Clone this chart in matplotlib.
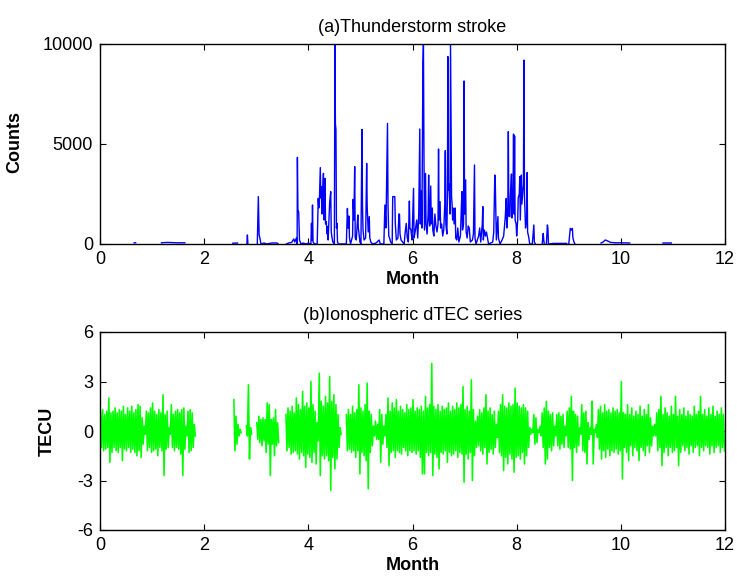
import numpy as np
import matplotlib
matplotlib.use("Agg")
import matplotlib.pyplot as plt

nan = np.nan

# ---------------- (a) thunderstorm stroke counts ----------------
stroke_month = [
    0.655, 0.685, nan,
    1.18, 1.30, 1.45, 1.63, nan,
    2.55, 2.64, nan,
    2.82, 2.83, 2.84, nan,
    3.02, 3.04, 3.055, 3.07, 3.09, 3.15, 3.20, 3.30, 3.40, 3.42, nan,
    3.58, 3.62, 3.68, 3.72, 3.74, 3.77, 3.785, 3.79, 3.80, 3.815, 3.83, 3.86, 3.90, 3.95, 4.00,
    4.05, 4.06, 4.07, 4.08, 4.09, 4.12, 4.17, 4.19, 4.20, 4.21, 4.23, 4.24, 4.25, 4.26, 4.275,
    4.29, 4.30, 4.31, 4.32, 4.33, 4.345, 4.36, 4.37, 4.38, 4.40, 4.41, 4.43, 4.44, 4.45, 4.47,
    4.50, 4.51, 4.52, 4.53, 4.54, 4.55, 4.56, 4.58,
    4.73, 4.75, 4.76, 4.77, 4.78, 4.79, 4.81, 4.85, 4.86, 4.875, 4.89, 4.90, 4.92, 4.95, 4.96,
    4.97, 4.99, 5.01, 5.03, 5.04, 5.05, 5.07, 5.10, 5.12, 5.13, 5.15, 5.17, 5.18, 5.20, 5.23,
    5.30, 5.36, 5.38, 5.45, 5.47, 5.49, 5.52, 5.53, 5.545, 5.56, 5.58, 5.61, 5.62, 5.66, 5.67,
    5.69, 5.72, 5.74, 5.75, 5.76, 5.78, 5.81, 5.84, 5.86, 5.88, 5.90, 5.92, 5.94, 5.95, 5.97,
    5.99, 6.02, 6.03, 6.05, 6.08, 6.10, 6.12, 6.14, 6.15, 6.17, 6.18, 6.20, 6.21, 6.22, 6.23,
    6.25, 6.26, 6.28, 6.30, 6.31, 6.32, 6.33, 6.35, 6.36, 6.38, 6.39, 6.41, 6.43, 6.45, 6.47,
    6.49, 6.50, 6.51, 6.53, 6.54, 6.56, 6.58, 6.60, 6.62, 6.63, 6.64, 6.66, 6.67, 6.68, 6.69,
    6.70, 6.72, 6.73, 6.74, 6.75, 6.76, 6.77, 6.78, 6.80, 6.82, 6.83, 6.85, 6.87, 6.89, 6.92,
    6.94, 6.95, 6.96, 6.98, 6.99, 7.00, 7.01, 7.02, 7.03, 7.05, 7.07, 7.09, 7.11, 7.15, 7.17,
    7.19, 7.20, 7.22, 7.27, 7.29, 7.31, 7.34, 7.35, 7.36, 7.38, 7.40, 7.42, 7.44, 7.46, 7.54,
    7.56, 7.58, 7.59, 7.60, 7.61, 7.64, 7.65, 7.68, 7.72, 7.75, 7.78, 7.80, 7.81, 7.83, 7.84,
    7.85, 7.87, 7.88, 7.90, 7.91, 7.93, 7.94, 7.95, 7.96, 7.97, 7.99, 8.00, 8.02, 8.03, 8.05,
    8.06, 8.07, 8.09, 8.10, 8.13, 8.14, 8.15, 8.17, 8.19, 8.20, 8.21, 8.23, 8.25,
    8.30, 8.33, 8.34, 8.36, nan,
    8.49, 8.51, 8.52, 8.53, nan,
    8.57, 8.59, 8.60, 8.61, 8.70, 8.80, 8.96, nan,
    9.00, 9.02, 9.03, 9.05, 9.07, 9.08, 9.10, 9.12, nan,
    9.62, 9.66, 9.70, 9.75, 9.80, 9.90, 10.00, 10.17, nan,
    10.81, 10.97,
]
stroke_counts = [
    60, 60, nan,
    60, 80, 60, 60, nan,
    40, 50, nan,
    0, 450, 0, nan,
    0, 2370, 450, 300, 0, 50, 0, 50, 50, 0, nan,
    0, 50, 80, 250, 100, 300, 0, 4330, 1700, 1600, 200, 0, 50, 0, 40,
    0, 1030, 200, 1950, 100, 0, 0, 2280, 1800, 2000, 3820, 2300, 2870, 1500, 2600,
    3530, 1200, 2400, 3280, 1000, 1120, 500, 870, 200, 1500, 2100, 2620, 600, 400, 100,
    0, 10000, 6000, 5730, 800, 1030, 100, 0,
    0, 1780, 1000, 780, 1400, 300, 0, 400, 2230, 1200, 3870, 300, 200, 1450, 800,
    600, 100, 0, 5730, 1870, 700, 200, 300, 4030, 1870, 600, 1370, 300, 100, 0,
    50, 200, 0, 0, 1950, 800, 6030, 1870, 400, 300, 100, 0, 2370, 2370, 1030,
    200, 300, 1500, 1500, 500, 200, 100, 0, 600, 1030, 300, 100, 2150, 800, 700,
    200, 2780, 300, 600, 1200, 300, 1500, 5750, 1000, 2650, 800, 9000, 10000, 4500, 700,
    3530, 1000, 500, 1500, 3450, 1200, 900, 2900, 1000, 1800, 700, 400, 1500, 900, 600,
    1000, 4750, 1200, 2120, 800, 1000, 400, 700, 2000, 4670, 1000, 500, 2500, 9370, 2700,
    3000, 1500, 10000, 6000, 2370, 2000, 1200, 1800, 1000, 1800, 300, 200, 800, 100, 400,
    2000, 2620, 700, 1000, 8150, 1500, 3120, 3200, 600, 300, 900, 800, 100, 200, 500,
    3950, 300, 0, 400, 800, 100, 1000, 1870, 200, 700, 400, 600, 300, 0, 100,
    600, 3450, 3000, 1500, 200, 1370, 300, 0, 200, 400, 1300, 2280, 800, 1500, 5620,
    1400, 1370, 2400, 3500, 1300, 2500, 5500, 1500, 5400, 1200, 1000, 400, 1200, 2300, 2500,
    3370, 1200, 3450, 2000, 3000, 9200, 2400, 800, 1200, 3570, 600, 370, 0,
    0, 950, 100, 0, nan,
    0, 530, 200, 0, nan,
    0, 950, 780, 0, 30, 30, 30, nan,
    0, 500, 780, 700, 780, 300, 100, 0, nan,
    50, 100, 200, 150, 80, 60, 60, 50, nan,
    50, 50,
]

# ---------------- (b) ionospheric dTEC ----------------
# upper / lower excursion (TECU) of the series in 0.04-month bins, one row per month
dtec_bin = 0.04
dtec_upper = [
    1.1, 1.3, 1.0, 1.2, 2.0, 1.1, 1.2, 1.4, 1.1, 1.3, 1.2, 1.5, 1.0, 1.4, 1.2, 1.5, 1.1, 1.3, 1.6, 1.5, 0.8, 0.3, 1.2, 1.1, 1.4,
    1.7, 1.2, 1.0, 1.3, 1.1, 2.2, 1.0, 1.2, 0.2, 1.6, 1.0, 1.2, 1.3, 1.1, 1.3, 1.4, 0.3, 1.2, 1.3, 1.1, 0.4, nan, nan, nan, nan,
    nan, nan, nan, nan, nan, nan, nan, nan, nan, nan, nan, nan, nan, nan, 1.9, 0.9, 0.4, 0.1, nan, nan, 0.3, 2.8, 0.2, nan, nan,
    0.5, 0.9, 0.7, 0.8, 0.7, 1.7, 1.6, 0.7, 0.8, 1.3, 0.5, nan, nan, nan, 1.0, 1.4, 1.2, 1.5, 1.1, 2.0, 1.6, 1.3, 2.4, 1.5, 1.7,
    1.4, 3.0, 1.6, 1.2, 0.5, 3.5, 1.8, 1.5, 2.1, 1.7, 3.3, 1.8, 2.2, 1.6, 1.0, 0.2, nan, nan, 1.0, 1.3, 1.0, 1.5, 1.1, 1.3, 2.8,
    1.4, 1.2, 1.6, 2.9, 1.2, 1.0, 0.3, 0.6, 0.4, 1.3, 1.0, 0.3, 1.0, 2.0, 1.2, 1.7, 1.4, 1.9, 1.2, 1.5, 1.3, 1.1, 1.6, 1.3, 1.4,
    1.9, 1.2, 1.4, 1.3, 1.5, 1.2, 2.1, 1.4, 1.6, 4.1, 1.5, 1.3, 1.6, 1.2, 1.5, 1.3, 1.4, 1.7, 1.2, 1.5, 1.3, 1.7, 1.4, 1.6, 2.7,
    1.3, 1.5, 1.2, 3.1, 1.3, 0.6, 0.9, 1.3, 1.1, 1.4, 2.2, 1.2, 1.4, 1.0, 1.2, 0.4, 1.2, 1.6, 2.2, 1.5, 1.4, 1.7, 1.5, 1.6, 2.6,
    1.7, 1.5, 1.4, 1.6, 1.4, 1.2, 0.2, 0.1, 1.0, 0.8, 0.1, 0.3, 1.1, 1.4, 1.8, 1.2, 1.0, 1.1, 0.3, 1.0, 1.1, 0.9, 1.0, 0.3, 1.2,
    1.4, 2.1, 1.2, 1.0, 0.9, 0.2, 1.6, 1.1, 1.2, 0.5, 0.2, 1.8, 0.1, 0.4, 1.3, 1.5, 1.1, 1.6, 1.2, 1.3, 1.1, 1.4, 1.2, 1.3, 1.1,
    3.0, 1.1, 1.0, 1.6, 1.0, 1.4, 0.9, 1.2, 1.0, 1.5, 0.9, 1.3, 1.0, 1.6, 0.8, 0.3, 0.4, 1.1, 1.3, 2.1, 1.0, 1.4, 1.1, 0.9, 1.5,
    1.0, 2.1, 0.9, 1.3, 1.0, 1.4, 0.9, 1.2, 1.0, 0.9, 1.5, 1.0, 1.2, 2.1, 1.0, 1.3, 0.9, 1.4, 1.0, 1.5, 0.9, 1.2, 1.0, 1.4, 1.0,
]
dtec_lower = [
    -1.0, -1.2, -1.1, -1.0, -1.9, -1.3, -1.0, -1.2, -1.3, -1.0, -1.8, -1.1, -1.2, -1.0, -1.3, -1.1, -1.3, -1.5, -1.2, -1.6, -0.8, -0.2, -1.2, -1.0, -1.3,
    -1.2, -1.1, -1.5, -1.0, -1.2, -2.7, -1.1, -1.0, -0.2, -1.0, -1.2, -1.0, -1.1, -1.4, -2.7, -1.1, -0.3, -1.3, -1.2, -1.0, -0.3, nan, nan, nan, nan,
    nan, nan, nan, nan, nan, nan, nan, nan, nan, nan, nan, nan, nan, nan, -1.2, -0.8, -0.3, -0.1, nan, nan, -0.3, -1.7, -0.2, nan, nan,
    -0.5, -0.7, -0.9, -0.6, -1.3, -0.8, -2.7, -0.8, -1.5, -0.9, -0.7, nan, nan, nan, -1.2, -1.0, -1.4, -1.3, -1.2, -1.4, -1.7, -1.3, -1.5, -2.2, -1.4,
    -1.6, -1.9, -1.3, -2.0, -0.6, -2.7, -1.5, -1.7, -1.5, -1.8, -3.6, -1.6, -2.3, -1.7, -1.0, -0.2, nan, nan, -1.2, -1.1, -1.3, -1.2, -1.6, -1.2, -2.6,
    -1.3, -1.5, -1.8, -3.5, -1.3, -0.9, -0.3, -0.5, -0.5, -1.9, -0.8, -0.3, -1.0, -2.1, -1.3, -1.2, -1.6, -1.2, -1.3, -1.4, -1.0, -1.2, -1.5, -1.2, -1.3,
    -1.2, -1.4, -1.2, -1.6, -2.6, -2.6, -1.3, -1.5, -1.3, -2.7, -1.4, -1.6, -2.3, -1.3, -1.4, -1.2, -1.9, -1.3, -1.5, -1.4, -1.2, -1.6, -1.3, -1.4, -3.1,
    -1.4, -1.7, -1.3, -3.0, -1.5, -1.0, -0.9, -1.2, -1.4, -1.0, -2.0, -1.3, -1.1, -1.4, -1.0, -0.4, -1.3, -1.5, -2.4, -1.6, -2.0, -1.4, -1.7, -2.5, -1.6,
    -1.5, -1.7, -1.3, -2.0, -1.5, -1.0, -0.2, -0.1, -0.8, -0.7, -0.1, -0.3, -1.0, -2.0, -1.7, -1.0, -1.2, -0.9, -0.3, -0.9, -1.1, -0.8, -1.0, -0.3, -1.0,
    -1.1, -3.0, -1.0, -1.3, -0.9, -0.2, -1.2, -1.3, -2.0, -0.5, -0.2, -2.0, -0.1, -0.4, -1.1, -1.7, -1.2, -1.6, -1.1, -1.5, -1.2, -1.3, -1.1, -1.4, -1.2,
    -2.9, -1.0, -1.3, -1.8, -0.9, -1.5, -1.0, -1.2, -1.8, -1.0, -1.2, -1.5, -0.9, -1.3, -0.9, -0.3, -0.3, -1.2, -1.0, -2.1, -1.3, -1.0, -1.5, -1.0, -1.3,
    -1.2, -1.0, -2.1, -1.3, -0.9, -1.2, -1.0, -1.4, -0.9, -1.3, -1.0, -0.9, -1.5, -1.0, -1.2, -0.9, -1.0, -1.4, -0.9, -1.3, -1.0, -0.9, -1.3, -1.0, -1.2,
]

month_ticks = [0, 2, 4, 6, 8, 10, 12]
count_ticks = [0, 5000, 10000]
tecu_ticks = [-6, -3, 0, 3, 6]

plt.rcParams["font.family"] = ["Liberation Sans", "DejaVu Sans"]
plt.rcParams["font.size"] = 13
plt.rcParams["axes.unicode_minus"] = False

fig = plt.figure(figsize=(7.37, 5.79), dpi=100)
W, H = 737, 579
ax1 = fig.add_axes([100 / W, 1 - 244 / H, 625 / W, 200 / H])
ax2 = fig.add_axes([100 / W, 1 - 530 / H, 625 / W, 198 / H])

ax1.plot(stroke_month, stroke_counts, color="#0000ff", lw=1.0)

# trace alternates between the upper and lower excursion of each bin
centers = (np.arange(len(dtec_upper)) + 0.5) * dtec_bin
tx = np.column_stack([centers - dtec_bin / 4, centers + dtec_bin / 4]).ravel()
ty = np.column_stack([dtec_upper, dtec_lower]).ravel()
ax2.plot(tx, ty, color="#00ff00", lw=1.15)

for ax in (ax1, ax2):
    ax.set_xlim(0, 12)
    ax.set_xticks(month_ticks)
    ax.tick_params(direction="in", length=4.5, width=0.8, top=True, right=True,
                   labelsize=13, pad=5, colors="black")
    for s in ax.spines.values():
        s.set_linewidth(1.0)
        s.set_color("black")
    ax.set_xlabel("Month", fontweight="bold", fontsize=13, labelpad=2)

ax1.set_ylim(0, 10000)
ax1.set_yticks(count_ticks)
ax1.set_ylabel("Counts", fontweight="bold", fontsize=13)
ax1.yaxis.set_label_coords(-0.123, 0.51)
ax1.set_title("(a)Thunderstorm stroke", fontsize=13, pad=9)

ax2.set_ylim(-6, 6)
ax2.set_yticks(tecu_ticks)
ax2.set_ylabel("TECU", fontweight="bold", fontsize=13)
ax2.yaxis.set_label_coords(-0.07, 0.5)
ax2.set_title("(b)Ionospheric dTEC series", fontsize=13, pad=9)

fig.savefig("out.png", dpi=100)
